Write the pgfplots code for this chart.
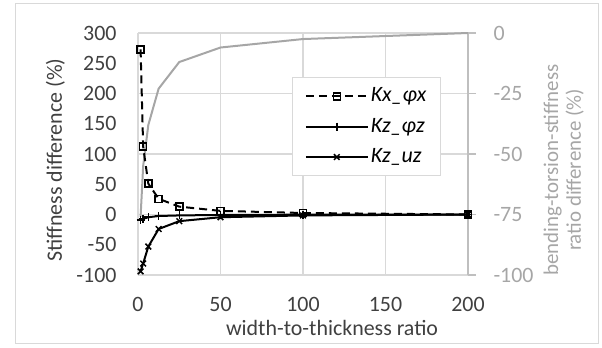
\documentclass[border=0pt]{standalone}
\usepackage{fontspec}
\setmainfont{Carlito}
\usepackage{pgfplots}
\pgfplotsset{compat=1.18}
\definecolor{gridc}{HTML}{D9D9D9}
\definecolor{txt}{HTML}{404040}
\definecolor{gline}{HTML}{A6A6A6}
\definecolor{gtxt}{HTML}{A6A6A6}
\definecolor{raxis}{HTML}{BFBFBF}
\newcommand{\cf}{\fontsize{22}{26}\selectfont}
\begin{document}
\cf
\begin{tikzpicture}[x=1bp,y=1bp]
\useasboundingbox (0,0) rectangle (602,347);
\draw[gridc, line width=1bp] (15,3.5) rectangle (598,343.5);
% secondary (right) axis with grid and gray line
\begin{axis}[at={(138bp,72bp)}, anchor=south west, scale only axis,
  width=330bp, height=242bp,
  xmin=0, xmax=200, ymin=-100, ymax=0,
  axis y line*=right, axis x line*=bottom,
  axis line style={raxis, line width=1.2bp},
  x axis line style={gridc},
  xtick={0,50,...,200}, xticklabels={},
  ytick={-100,-75,...,0},
  grid=major, major grid style={gridc, line width=1.2bp},
  xtick style={draw=none},
  ytick style={raxis, line width=1.2bp},
  tick align=outside, major tick length=8bp,
  /pgf/number format/assume math mode=true,
  yticklabel style={font=\cf, text=gtxt, xshift=10bp},
  ylabel={bending-torsion-stiffness\\ratio difference (\%)},
  ylabel style={at={(axis description cs:1.29,0.434)}, anchor=center,
    align=center, text=gtxt, font=\fontsize{21}{23}\selectfont},
]
\addplot[gline, line width=2bp, mark=none] coordinates {
(1.5625,-76) (3.125,-55) (6.25,-38) (12.5,-23) (25,-12) (50,-6) (100,-2.5) (200,0)};
\end{axis}
% primary (left) axis
\begin{axis}[at={(138bp,72bp)}, anchor=south west, scale only axis,
  width=330bp, height=242bp,
  xmin=0, xmax=200, ymin=-100, ymax=300,
  axis y line*=left, axis x line*=bottom,
  axis line style={draw=none},
  xtick={0,50,...,200}, ytick={-100,-50,...,300},
  major tick length=0pt,
  /pgf/number format/assume math mode=true,
  ticklabel style={font=\cf, text=txt},
  xticklabel style={yshift=-15bp},
  yticklabel style={xshift=-14bp},
  xlabel={width-to-thickness ratio},
  xlabel style={at={(axis description cs:0.588,-0.22)}, anchor=center, text=txt, font=\cf},
  ylabel={Stiffness difference (\%)},
  ylabel style={at={(axis description cs:-0.25,0.475)}, anchor=center, text=txt, font=\cf},
  legend style={at={(rel axis cs:0.467,0.818)}, anchor=north west,
    draw=gridc, line width=1.3bp, fill=white,
    font=\itshape\cf, text=black,
    inner xsep=12bp, inner ysep=8bp, row sep=9bp},
  legend cell align=left,
  legend image code/.code={\draw[mark repeat=2,mark phase=2,#1] plot coordinates {(0bp,0bp)(31bp,0bp)(62bp,0bp)};},
]
\addplot[black, line width=2bp, dash pattern=on 8bp off 5bp, mark=square, mark size=3.5bp,
  mark options={solid, fill=white, line width=1.5bp}] coordinates {
(1.5625,273) (3.125,112) (6.25,51) (12.5,26) (25,13) (50,6) (100,2.5) (200,0)};
\addlegendentry{Kx\_φx}
\addplot[black, line width=2bp, mark=+, mark size=4bp, mark options={line width=1.5bp}] coordinates {
(1.5625,-9) (3.125,-7) (6.25,-4.5) (12.5,-2.5) (25,-1.5) (50,-0.8) (100,-0.3) (200,0)};
\addlegendentry{Kz\_φz}
\addplot[black, line width=2bp, mark=x, mark size=4bp, mark options={line width=1.5bp}] coordinates {
(1.5625,-94) (3.125,-81) (6.25,-53) (12.5,-24) (25,-11) (50,-4.5) (100,-1.5) (200,0)};
\addlegendentry{Kz\_uz}
\end{axis}
\end{tikzpicture}
\end{document}
